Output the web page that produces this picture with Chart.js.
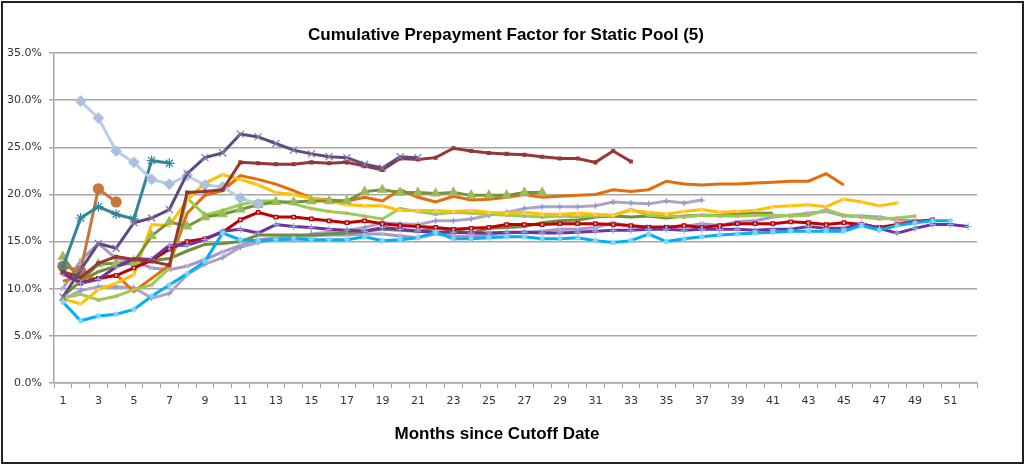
<!DOCTYPE html>
<html>
<head>
<meta charset="utf-8">
<script src="https://cdn.jsdelivr.net/npm/chart.js@4.4.1/dist/chart.umd.min.js"></script>
<style>
  html, body { margin: 0; padding: 0; background: #fff; }
  canvas { display: block; }
</style>
</head>
<body>
<canvas id="chart" width="1028" height="465"></canvas>
<script>
// months since cutoff date
const months = Array.from({length: 52}, (_, i) => String(i + 1));
const yTicks = [0, 5, 10, 15, 20, 25, 30, 35];

const chartTitle = 'Cumulative Prepayment Factor for Static Pool (5)';
const xTitle = 'Months since Cutoff Date';

// pool series, values in percent
const darkRed = [11.8, 11.2, 12.7, 13.4, 13.1, 12.9, 12.5, 20.2, 20.3, 20.5, 23.4, 23.3, 23.2, 23.2, 23.4, 23.3, 23.4, 23.0, 22.6, 23.8,
  23.7, 23.9, 24.9, 24.6, 24.4, 24.3, 24.2, 24.0, 23.8, 23.8, 23.4, 24.6, 23.5];
const darkPurple = [9.1, 12.0, 14.8, 14.3, 17.0, 17.5, 18.4, 22.2, 23.9, 24.4, 26.4, 26.1, 25.4, 24.7, 24.3, 24.0, 23.9, 23.2, 22.8, 24.0, 23.9];
const steelBlue = [null, 29.9, 28.1, 24.6, 23.4, 21.6, 21.1, 22.0, 21.0, 20.8, 19.6, 19.0];
const teal = [12.3, 17.5, 18.7, 17.9, 17.4, 23.6, 23.3];
const brownOrange = [12.4, 11.9, 20.6, 19.2];
const orange = [10.8, 11.3, 11.0, 11.5, 9.7, 11.1, 12.5, 18.0, 19.9, 20.4, 22.0, 21.6, 21.1, 20.4, 19.6, 19.4, 19.3, 19.7, 19.3, 20.5,
  19.7, 19.2, 19.8, 19.4, 19.5, 19.7, 20.0, 19.7, 19.8, 19.9, 20.0, 20.5, 20.3, 20.5, 21.4, 21.1, 21.0, 21.1, 21.1, 21.2,
  21.3, 21.4, 21.4, 22.2, 21.0];
const yellow = [8.9, 8.4, 9.9, 10.6, 11.5, 16.8, 16.7, 19.4, 21.2, 22.1, 21.6, 21.0, 20.2, 20.0, 19.6, 19.3, 18.9, 18.8, 18.8, 18.3,
  18.3, 18.3, 18.2, 18.3, 18.1, 18.0, 18.1, 17.9, 17.9, 18.0, 17.9, 17.8, 18.3, 18.1, 17.9, 18.2, 18.4, 18.1, 18.2, 18.3,
  18.7, 18.8, 18.9, 18.7, 19.5, 19.2, 18.8, 19.1];
const lightGreen = [9.0, 9.4, 8.8, 9.2, 9.9, 10.4, 12.2, 19.6, 17.8, 18.3, 18.9, 19.3, 19.3, 19.0, 18.5, 18.2, 18.0, 17.7, 17.4, 18.5,
  18.2, 17.9, 18.1, 18.0, 17.9, 17.8, 17.7, 17.6, 17.7, 17.6, 17.7, 17.8, 18.4, 17.8, 17.7, 17.6, 17.8, 17.7, 17.7, 17.8,
  17.8, 17.7, 17.8, 18.4, 17.8, 17.6, 17.4, 17.5, 17.7];
const olive = [13.4, 10.8, 12.6, 12.7, 12.8, 15.6, 17.1, 16.6, 17.6, 17.9, 18.4, 18.9, 19.2, 19.2, 19.3, 19.3, 19.3, 20.3, 20.5, 20.2,
  20.2, 20.1, 20.2, 19.9, 19.9, 19.9, 20.2, 20.2];
const red = [11.7, 10.6, 11.1, 11.4, 12.2, 13.0, 14.2, 15.0, 15.3, 16.0, 17.3, 18.1, 17.6, 17.6, 17.4, 17.2, 17.0, 17.2, 16.9, 16.7,
  16.6, 16.5, 16.3, 16.4, 16.5, 16.8, 16.8, 16.8, 16.9, 16.9, 16.9, 16.8, 16.7, 16.5, 16.5, 16.7, 16.5, 16.7, 16.9, 16.9,
  16.9, 17.1, 17.0, 16.8, 17.0, 16.8, 16.5, 16.8, 17.1, 17.3];
const purple = [11.6, 10.6, 11.0, 12.3, 13.2, 13.1, 14.6, 14.6, 15.2, 16.1, 16.3, 15.9, 16.8, 16.6, 16.5, 16.3, 16.2, 16.1, 16.5, 16.3,
  16.1, 16.0, 16.0, 15.9, 15.9, 16.0, 16.0, 15.9, 15.9, 16.0, 16.1, 16.2, 16.2, 16.3, 16.3, 16.2, 16.3, 16.3, 16.3, 16.2,
  16.3, 16.3, 16.6, 16.4, 16.4, 16.9, 16.4, 15.9, 16.4, 16.8, 16.8, 16.6];
const lightBlue = [8.6, 6.6, 7.1, 7.3, 7.8, 9.2, 10.4, 11.6, 12.9, 15.9, 15.2, 15.1, 15.2, 15.3, 15.2, 15.2, 15.2, 15.5, 15.1, 15.2,
  15.4, 16.0, 15.3, 15.3, 15.4, 15.5, 15.5, 15.3, 15.3, 15.4, 15.1, 14.9, 15.1, 15.8, 15.0, 15.3, 15.5, 15.7, 15.8, 15.9,
  16.0, 16.1, 16.1, 16.1, 16.1, 16.7, 16.2, 16.7, 17.0, 17.2, 17.2];
const darkOlive = [9.2, 10.8, 11.8, 12.4, 12.8, 13.0, 13.2, 14.0, 14.7, 14.8, 15.0, 15.7, 15.7, 15.7, 15.7, 15.8, 15.9, 16.1, 16.3, 16.2,
  16.1, 16.4, 16.2, 15.9, 16.4, 16.5, 16.6, 17.0, 17.2, 17.3, 17.6, 17.7, 17.6, 17.7, 17.5, 17.7, 17.8, 17.8, 17.9, 18.0, 18.0];
const lavender = [8.9, 9.8, 10.2, 10.2, 10.1, 9.0, 9.5, 11.5, 12.6, 13.3, 14.4, 14.9, 15.2, 15.2, 15.8, 16.0, 16.2, 16.5, 17.0, 16.9,
  16.8, 17.2, 17.2, 17.4, 17.8, 18.1, 18.5, 18.7, 18.7, 18.7, 18.8, 19.2, 19.1, 19.0, 19.3, 19.1, 19.4];
const grayPurple = [10.0, 13.0, 14.8, 13.2, 12.9, 12.2, 12.0, 12.4, 13.1, 13.9, 14.6, 15.2, 15.4, 15.5, 15.6, 15.7, 15.7, 15.8, 15.8, 15.6,
  15.4, 15.8, 15.6, 15.5, 15.7, 15.9, 16.0, 16.1, 16.3, 16.3, 16.5, 17.0, 16.6, 16.6, 16.6, 16.6, 16.9, 16.7, 17.1, 17.2,
  17.6, 17.8, 18.0, 18.2, 17.7, 17.7, 17.6, 17.3, 17.2, 17.2];

function line(label, data, color, pointStyle, pointRadius, pointColor, pointBorder) {
    return {
        label: label,
        data: data,
        borderColor: color,
        backgroundColor: color,
        borderWidth: 3,
        tension: 0,
        spanGaps: false,
        pointStyle: pointStyle || 'circle',
        pointRadius: pointRadius || 0,
        pointBackgroundColor: pointColor || color,
        pointBorderColor: pointBorder || pointColor || color,
        pointBorderWidth: 1.2
    };
}

const datasets = [
    line('Pool B', darkPurple, '#604A7B', 'crossRot', 5, '#8873A8'),
    line('Pool A', darkRed, '#953735', 'rect', 2, '#953735'),
    line('Pool C', steelBlue, '#B9CDE5', 'rectRot', 5, '#A9C0DF'),
    line('Pool D', teal, '#31859C', 'star', 5, '#31859C'),
    line('Pool E', brownOrange, '#C5783A', 'circle', 5, '#C5783A'),
    line('Pool L', lightBlue, '#00B0F0', 'star', 3, '#7FD6F7'),
    line('Pool K', purple, '#7030A0', 'cross', 3.5, '#8EA9DB'),
    line('Pool J', red, '#C00000', 'rect', 2.5, '#8DB4E2', '#C00000'),
    line('Pool I', olive, '#77933C', 'triangle', 5, '#9BBB59'),
    line('Pool G', yellow, '#FFC000', 'rect', 1.5, '#F6CF6A'),
    line('Pool H', lightGreen, '#92D050', 'rect', 1.5, '#E0A070'),
    line('Pool F', orange, '#E46C0A'),
    line('Pool M', darkOlive, '#6F8E3A'),
    line('Pool N', lavender, '#B3A2C7', 'cross', 3, '#7F9BD0'),
    line('Pool O', grayPurple, '#A497C6', 'crossRot', 3, '#BDB3DE')
];

const chartFrame = {
    id: 'chartFrame',
    afterDraw(chart) {
        const ctx = chart.ctx;
        ctx.save();
        ctx.fillStyle = '#000';
        ctx.textAlign = 'center';
        ctx.textBaseline = 'alphabetic';
        ctx.font = 'bold 17px "Liberation Sans", Arial, sans-serif';
        ctx.fillText(chartTitle, 506, 39.5);
        ctx.fillText(xTitle, 497, 439);
        ctx.strokeStyle = '#222';
        ctx.lineWidth = 2;
        ctx.strokeRect(2, 2, 1021, 461);
        ctx.restore();
    }
};

const gridColor = '#A6A6A6';
const tickFont = { family: 'DejaVu Sans', size: 11 };

new Chart(document.getElementById('chart'), {
    type: 'line',
    data: { labels: months, datasets: datasets },
    options: {
        responsive: false,
        animation: false,
        devicePixelRatio: 1,
        layout: { padding: { left: 0, top: 53, right: 51, bottom: 0 } },
        plugins: {
            legend: { display: false },
            tooltip: { enabled: false },
            title: { display: false }
        },
        scales: {
            x: {
                type: 'category',
                offset: true,
                grid: { offset: true, drawOnChartArea: false, drawTicks: true, tickLength: 5, color: gridColor, lineWidth: 1 },
                border: { display: true, color: gridColor, width: 1.5 },
                ticks: {
                    autoSkip: false,
                    maxRotation: 0,
                    minRotation: 0,
                    padding: 7,
                    color: '#333',
                    font: tickFont,
                    callback: (v, i) => (i % 2 === 0 ? months[i] : '')
                },
                afterFit: (s) => { s.height = 465 - 383; }
            },
            y: {
                min: yTicks[0],
                max: yTicks[yTicks.length - 1],
                afterBuildTicks: (s) => { s.ticks = yTicks.map(v => ({ value: v })); },
                grid: { color: gridColor, lineWidth: 1.5, tickLength: 5 },
                border: { display: true, color: gridColor, width: 1.5 },
                ticks: {
                    padding: 7,
                    color: '#333',
                    font: tickFont,
                    callback: (v) => v.toFixed(1) + '%'
                },
                afterFit: (s) => { s.width = 54; }
            }
        }
    },
    plugins: [chartFrame]
});
</script>
</body>
</html>
